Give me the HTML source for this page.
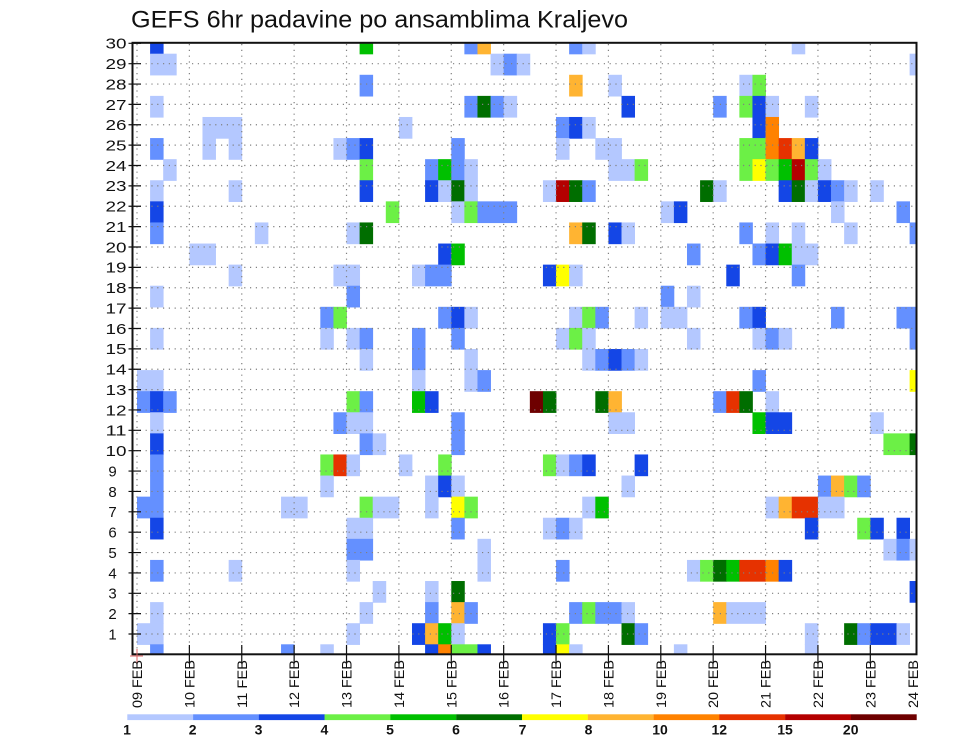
<!DOCTYPE html>
<html>
<head>
<meta charset="utf-8">
<style>
html,body{margin:0;padding:0;background:#fff;}
svg{display:block;}
.c1{fill:#b4c8ff}.c2{fill:#6490ff}.c3{fill:#1446e6}.c4{fill:#6cf046}
.c5{fill:#00c000}.c6{fill:#006e00}.c7{fill:#ffff00}.c8{fill:#ffb432}
.c9{fill:#ff8200}.c10{fill:#e63200}.c11{fill:#b40000}.c12{fill:#6e0000}
text{font-family:"Liberation Sans",Arial,sans-serif;fill:#111;}
</style>
</head>
<body>
<svg width="960" height="742" viewBox="0 0 960 742" xmlns="http://www.w3.org/2000/svg">
<rect x="0" y="0" width="960" height="742" fill="#fff"/>
<defs>
<clipPath id="pc"><rect x="133.5" y="43.5" width="782.5" height="610.5"/></clipPath>
</defs>

<text x="131" y="27.5" font-size="24" textLength="497" lengthAdjust="spacingAndGlyphs">GEFS 6hr padavine po ansamblima Kraljevo</text>

<g clip-path="url(#pc)">
<g transform="translate(137 665.393) scale(13.095 21.093)">
<!-- k29 -->
<rect x="1" y="-30" width="1.03" height="1.03" class="c3"/>
<rect x="17" y="-30" width="1.03" height="1.03" class="c5"/>
<rect x="25" y="-30" width="1.03" height="1.03" class="c2"/>
<rect x="26" y="-30" width="1.03" height="1.03" class="c8"/>
<rect x="33" y="-30" width="1.03" height="1.03" class="c2"/>
<rect x="34" y="-30" width="1.03" height="1.03" class="c1"/>
<rect x="50" y="-30" width="1.03" height="1.03" class="c1"/>
<!-- k28 -->
<rect x="1" y="-29" width="2.03" height="1.03" class="c1"/>
<rect x="27" y="-29" width="1.03" height="1.03" class="c1"/>
<rect x="28" y="-29" width="1.03" height="1.03" class="c2"/>
<rect x="29" y="-29" width="1.03" height="1.03" class="c1"/>
<rect x="59" y="-29" width="1.03" height="1.03" class="c1"/>
<!-- k27 -->
<rect x="17" y="-28" width="1.03" height="1.03" class="c2"/>
<rect x="33" y="-28" width="1.03" height="1.03" class="c8"/>
<rect x="36" y="-28" width="1.03" height="1.03" class="c1"/>
<rect x="46" y="-28" width="1.03" height="1.03" class="c1"/>
<rect x="47" y="-28" width="1.03" height="1.03" class="c4"/>
<!-- k26 -->
<rect x="1" y="-27" width="1.03" height="1.03" class="c1"/>
<rect x="25" y="-27" width="1.03" height="1.03" class="c2"/>
<rect x="26" y="-27" width="1.03" height="1.03" class="c6"/>
<rect x="27" y="-27" width="1.03" height="1.03" class="c2"/>
<rect x="28" y="-27" width="1.03" height="1.03" class="c1"/>
<rect x="37" y="-27" width="1.03" height="1.03" class="c3"/>
<rect x="44" y="-27" width="1.03" height="1.03" class="c2"/>
<rect x="46" y="-27" width="1.03" height="1.03" class="c4"/>
<rect x="47" y="-27" width="1.03" height="1.03" class="c3"/>
<rect x="48" y="-27" width="1.03" height="1.03" class="c1"/>
<rect x="51" y="-27" width="1.03" height="1.03" class="c1"/>
<!-- k25 -->
<rect x="5" y="-26" width="3.03" height="1.03" class="c1"/>
<rect x="20" y="-26" width="1.03" height="1.03" class="c1"/>
<rect x="32" y="-26" width="1.03" height="1.03" class="c2"/>
<rect x="33" y="-26" width="1.03" height="1.03" class="c3"/>
<rect x="34" y="-26" width="1.03" height="1.03" class="c1"/>
<rect x="47" y="-26" width="1.03" height="1.03" class="c3"/>
<rect x="48" y="-26" width="1.03" height="1.03" class="c9"/>
<!-- k24 -->
<rect x="1" y="-25" width="1.03" height="1.03" class="c2"/>
<rect x="5" y="-25" width="1.03" height="1.03" class="c1"/>
<rect x="7" y="-25" width="1.03" height="1.03" class="c1"/>
<rect x="15" y="-25" width="1.03" height="1.03" class="c1"/>
<rect x="16" y="-25" width="1.03" height="1.03" class="c2"/>
<rect x="17" y="-25" width="1.03" height="1.03" class="c3"/>
<rect x="24" y="-25" width="1.03" height="1.03" class="c2"/>
<rect x="32" y="-25" width="1.03" height="1.03" class="c1"/>
<rect x="35" y="-25" width="2.03" height="1.03" class="c1"/>
<rect x="46" y="-25" width="2.03" height="1.03" class="c4"/>
<rect x="48" y="-25" width="1.03" height="1.03" class="c9"/>
<rect x="49" y="-25" width="1.03" height="1.03" class="c10"/>
<rect x="50" y="-25" width="1.03" height="1.03" class="c8"/>
<rect x="51" y="-25" width="1.03" height="1.03" class="c3"/>
<!-- k23 -->
<rect x="2" y="-24" width="1.03" height="1.03" class="c1"/>
<rect x="17" y="-24" width="1.03" height="1.03" class="c4"/>
<rect x="22" y="-24" width="1.03" height="1.03" class="c2"/>
<rect x="23" y="-24" width="1.03" height="1.03" class="c5"/>
<rect x="24" y="-24" width="1.03" height="1.03" class="c2"/>
<rect x="25" y="-24" width="1.03" height="1.03" class="c1"/>
<rect x="36" y="-24" width="2.03" height="1.03" class="c1"/>
<rect x="38" y="-24" width="1.03" height="1.03" class="c4"/>
<rect x="46" y="-24" width="1.03" height="1.03" class="c4"/>
<rect x="47" y="-24" width="1.03" height="1.03" class="c7"/>
<rect x="48" y="-24" width="1.03" height="1.03" class="c4"/>
<rect x="49" y="-24" width="1.03" height="1.03" class="c5"/>
<rect x="50" y="-24" width="1.03" height="1.03" class="c11"/>
<rect x="51" y="-24" width="1.03" height="1.03" class="c4"/>
<rect x="52" y="-24" width="1.03" height="1.03" class="c1"/>
<!-- k22 -->
<rect x="1" y="-23" width="1.03" height="1.03" class="c1"/>
<rect x="7" y="-23" width="1.03" height="1.03" class="c1"/>
<rect x="17" y="-23" width="1.03" height="1.03" class="c3"/>
<rect x="22" y="-23" width="1.03" height="1.03" class="c3"/>
<rect x="23" y="-23" width="1.03" height="1.03" class="c1"/>
<rect x="24" y="-23" width="1.03" height="1.03" class="c6"/>
<rect x="25" y="-23" width="1.03" height="1.03" class="c1"/>
<rect x="31" y="-23" width="1.03" height="1.03" class="c1"/>
<rect x="32" y="-23" width="1.03" height="1.03" class="c11"/>
<rect x="33" y="-23" width="1.03" height="1.03" class="c6"/>
<rect x="34" y="-23" width="1.03" height="1.03" class="c2"/>
<rect x="43" y="-23" width="1.03" height="1.03" class="c6"/>
<rect x="44" y="-23" width="1.03" height="1.03" class="c1"/>
<rect x="49" y="-23" width="1.03" height="1.03" class="c3"/>
<rect x="50" y="-23" width="1.03" height="1.03" class="c6"/>
<rect x="51" y="-23" width="1.03" height="1.03" class="c1"/>
<rect x="52" y="-23" width="1.03" height="1.03" class="c3"/>
<rect x="53" y="-23" width="1.03" height="1.03" class="c2"/>
<rect x="54" y="-23" width="1.03" height="1.03" class="c1"/>
<rect x="56" y="-23" width="1.03" height="1.03" class="c1"/>
<!-- k21 -->
<rect x="1" y="-22" width="1.03" height="1.03" class="c3"/>
<rect x="19" y="-22" width="1.03" height="1.03" class="c4"/>
<rect x="24" y="-22" width="1.03" height="1.03" class="c1"/>
<rect x="25" y="-22" width="1.03" height="1.03" class="c4"/>
<rect x="26" y="-22" width="3.03" height="1.03" class="c2"/>
<rect x="40" y="-22" width="1.03" height="1.03" class="c1"/>
<rect x="41" y="-22" width="1.03" height="1.03" class="c3"/>
<rect x="53" y="-22" width="1.03" height="1.03" class="c1"/>
<rect x="58" y="-22" width="1.03" height="1.03" class="c2"/>
<!-- k20 -->
<rect x="1" y="-21" width="1.03" height="1.03" class="c2"/>
<rect x="9" y="-21" width="1.03" height="1.03" class="c1"/>
<rect x="16" y="-21" width="1.03" height="1.03" class="c1"/>
<rect x="17" y="-21" width="1.03" height="1.03" class="c6"/>
<rect x="33" y="-21" width="1.03" height="1.03" class="c8"/>
<rect x="34" y="-21" width="1.03" height="1.03" class="c6"/>
<rect x="36" y="-21" width="1.03" height="1.03" class="c3"/>
<rect x="37" y="-21" width="1.03" height="1.03" class="c1"/>
<rect x="46" y="-21" width="1.03" height="1.03" class="c2"/>
<rect x="48" y="-21" width="1.03" height="1.03" class="c1"/>
<rect x="50" y="-21" width="1.03" height="1.03" class="c1"/>
<rect x="54" y="-21" width="1.03" height="1.03" class="c1"/>
<rect x="59" y="-21" width="1.03" height="1.03" class="c2"/>
<!-- k19 -->
<rect x="4" y="-20" width="2.03" height="1.03" class="c1"/>
<rect x="23" y="-20" width="1.03" height="1.03" class="c3"/>
<rect x="24" y="-20" width="1.03" height="1.03" class="c5"/>
<rect x="42" y="-20" width="1.03" height="1.03" class="c2"/>
<rect x="47" y="-20" width="1.03" height="1.03" class="c2"/>
<rect x="48" y="-20" width="1.03" height="1.03" class="c3"/>
<rect x="49" y="-20" width="1.03" height="1.03" class="c5"/>
<rect x="50" y="-20" width="2.03" height="1.03" class="c1"/>
<!-- k18 -->
<rect x="7" y="-19" width="1.03" height="1.03" class="c1"/>
<rect x="15" y="-19" width="2.03" height="1.03" class="c1"/>
<rect x="21" y="-19" width="1.03" height="1.03" class="c1"/>
<rect x="22" y="-19" width="2.03" height="1.03" class="c2"/>
<rect x="31" y="-19" width="1.03" height="1.03" class="c3"/>
<rect x="32" y="-19" width="1.03" height="1.03" class="c7"/>
<rect x="33" y="-19" width="1.03" height="1.03" class="c1"/>
<rect x="45" y="-19" width="1.03" height="1.03" class="c3"/>
<rect x="50" y="-19" width="1.03" height="1.03" class="c2"/>
<!-- k17 -->
<rect x="1" y="-18" width="1.03" height="1.03" class="c1"/>
<rect x="16" y="-18" width="1.03" height="1.03" class="c2"/>
<rect x="40" y="-18" width="1.03" height="1.03" class="c2"/>
<rect x="42" y="-18" width="1.03" height="1.03" class="c1"/>
<!-- k16 -->
<rect x="14" y="-17" width="1.03" height="1.03" class="c2"/>
<rect x="15" y="-17" width="1.03" height="1.03" class="c4"/>
<rect x="23" y="-17" width="1.03" height="1.03" class="c2"/>
<rect x="24" y="-17" width="1.03" height="1.03" class="c3"/>
<rect x="25" y="-17" width="1.03" height="1.03" class="c1"/>
<rect x="33" y="-17" width="1.03" height="1.03" class="c1"/>
<rect x="34" y="-17" width="1.03" height="1.03" class="c4"/>
<rect x="35" y="-17" width="1.03" height="1.03" class="c2"/>
<rect x="38" y="-17" width="1.03" height="1.03" class="c1"/>
<rect x="40" y="-17" width="2.03" height="1.03" class="c1"/>
<rect x="46" y="-17" width="1.03" height="1.03" class="c2"/>
<rect x="47" y="-17" width="1.03" height="1.03" class="c3"/>
<rect x="53" y="-17" width="1.03" height="1.03" class="c2"/>
<rect x="58" y="-17" width="2.03" height="1.03" class="c2"/>
<!-- k15 -->
<rect x="1" y="-16" width="1.03" height="1.03" class="c1"/>
<rect x="14" y="-16" width="1.03" height="1.03" class="c1"/>
<rect x="16" y="-16" width="1.03" height="1.03" class="c1"/>
<rect x="17" y="-16" width="1.03" height="1.03" class="c2"/>
<rect x="21" y="-16" width="1.03" height="1.03" class="c2"/>
<rect x="24" y="-16" width="1.03" height="1.03" class="c2"/>
<rect x="32" y="-16" width="1.03" height="1.03" class="c1"/>
<rect x="33" y="-16" width="1.03" height="1.03" class="c4"/>
<rect x="34" y="-16" width="1.03" height="1.03" class="c1"/>
<rect x="42" y="-16" width="1.03" height="1.03" class="c1"/>
<rect x="47" y="-16" width="1.03" height="1.03" class="c1"/>
<rect x="48" y="-16" width="1.03" height="1.03" class="c2"/>
<rect x="49" y="-16" width="1.03" height="1.03" class="c1"/>
<rect x="59" y="-16" width="1.03" height="1.03" class="c2"/>
<!-- k14 -->
<rect x="17" y="-15" width="1.03" height="1.03" class="c1"/>
<rect x="21" y="-15" width="1.03" height="1.03" class="c2"/>
<rect x="25" y="-15" width="1.03" height="1.03" class="c1"/>
<rect x="34" y="-15" width="1.03" height="1.03" class="c1"/>
<rect x="35" y="-15" width="1.03" height="1.03" class="c2"/>
<rect x="36" y="-15" width="1.03" height="1.03" class="c3"/>
<rect x="37" y="-15" width="1.03" height="1.03" class="c2"/>
<rect x="38" y="-15" width="1.03" height="1.03" class="c1"/>
<!-- k13 -->
<rect x="0" y="-14" width="2.03" height="1.03" class="c1"/>
<rect x="21" y="-14" width="1.03" height="1.03" class="c1"/>
<rect x="25" y="-14" width="1.03" height="1.03" class="c1"/>
<rect x="26" y="-14" width="1.03" height="1.03" class="c2"/>
<rect x="47" y="-14" width="1.03" height="1.03" class="c2"/>
<rect x="59" y="-14" width="1.03" height="1.03" class="c7"/>
<!-- k12 -->
<rect x="0" y="-13" width="1.03" height="1.03" class="c2"/>
<rect x="1" y="-13" width="1.03" height="1.03" class="c3"/>
<rect x="2" y="-13" width="1.03" height="1.03" class="c2"/>
<rect x="16" y="-13" width="1.03" height="1.03" class="c4"/>
<rect x="17" y="-13" width="1.03" height="1.03" class="c2"/>
<rect x="21" y="-13" width="1.03" height="1.03" class="c5"/>
<rect x="22" y="-13" width="1.03" height="1.03" class="c3"/>
<rect x="30" y="-13" width="1.03" height="1.03" class="c12"/>
<rect x="31" y="-13" width="1.03" height="1.03" class="c6"/>
<rect x="35" y="-13" width="1.03" height="1.03" class="c6"/>
<rect x="36" y="-13" width="1.03" height="1.03" class="c8"/>
<rect x="44" y="-13" width="1.03" height="1.03" class="c2"/>
<rect x="45" y="-13" width="1.03" height="1.03" class="c10"/>
<rect x="46" y="-13" width="1.03" height="1.03" class="c6"/>
<rect x="48" y="-13" width="1.03" height="1.03" class="c1"/>
<!-- k11 -->
<rect x="1" y="-12" width="1.03" height="1.03" class="c1"/>
<rect x="15" y="-12" width="1.03" height="1.03" class="c2"/>
<rect x="16" y="-12" width="2.03" height="1.03" class="c1"/>
<rect x="24" y="-12" width="1.03" height="1.03" class="c2"/>
<rect x="36" y="-12" width="2.03" height="1.03" class="c1"/>
<rect x="47" y="-12" width="1.03" height="1.03" class="c5"/>
<rect x="48" y="-12" width="2.03" height="1.03" class="c3"/>
<rect x="56" y="-12" width="1.03" height="1.03" class="c1"/>
<!-- k10 -->
<rect x="1" y="-11" width="1.03" height="1.03" class="c3"/>
<rect x="17" y="-11" width="1.03" height="1.03" class="c2"/>
<rect x="18" y="-11" width="1.03" height="1.03" class="c1"/>
<rect x="24" y="-11" width="1.03" height="1.03" class="c2"/>
<rect x="57" y="-11" width="2.03" height="1.03" class="c4"/>
<rect x="59" y="-11" width="1.03" height="1.03" class="c6"/>
<!-- k9 -->
<rect x="1" y="-10" width="1.03" height="1.03" class="c2"/>
<rect x="14" y="-10" width="1.03" height="1.03" class="c4"/>
<rect x="15" y="-10" width="1.03" height="1.03" class="c10"/>
<rect x="16" y="-10" width="1.03" height="1.03" class="c1"/>
<rect x="20" y="-10" width="1.03" height="1.03" class="c1"/>
<rect x="23" y="-10" width="1.03" height="1.03" class="c4"/>
<rect x="31" y="-10" width="1.03" height="1.03" class="c4"/>
<rect x="32" y="-10" width="1.03" height="1.03" class="c1"/>
<rect x="33" y="-10" width="1.03" height="1.03" class="c2"/>
<rect x="34" y="-10" width="1.03" height="1.03" class="c3"/>
<rect x="38" y="-10" width="1.03" height="1.03" class="c3"/>
<!-- k8 -->
<rect x="1" y="-9" width="1.03" height="1.03" class="c2"/>
<rect x="14" y="-9" width="1.03" height="1.03" class="c1"/>
<rect x="22" y="-9" width="1.03" height="1.03" class="c1"/>
<rect x="23" y="-9" width="1.03" height="1.03" class="c3"/>
<rect x="24" y="-9" width="1.03" height="1.03" class="c1"/>
<rect x="37" y="-9" width="1.03" height="1.03" class="c1"/>
<rect x="52" y="-9" width="1.03" height="1.03" class="c2"/>
<rect x="53" y="-9" width="1.03" height="1.03" class="c8"/>
<rect x="54" y="-9" width="1.03" height="1.03" class="c4"/>
<rect x="55" y="-9" width="1.03" height="1.03" class="c2"/>
<!-- k7 -->
<rect x="0" y="-8" width="2.03" height="1.03" class="c2"/>
<rect x="11" y="-8" width="2.03" height="1.03" class="c1"/>
<rect x="17" y="-8" width="1.03" height="1.03" class="c4"/>
<rect x="18" y="-8" width="2.03" height="1.03" class="c1"/>
<rect x="22" y="-8" width="1.03" height="1.03" class="c1"/>
<rect x="24" y="-8" width="1.03" height="1.03" class="c7"/>
<rect x="25" y="-8" width="1.03" height="1.03" class="c4"/>
<rect x="34" y="-8" width="1.03" height="1.03" class="c1"/>
<rect x="35" y="-8" width="1.03" height="1.03" class="c5"/>
<rect x="48" y="-8" width="1.03" height="1.03" class="c1"/>
<rect x="49" y="-8" width="1.03" height="1.03" class="c8"/>
<rect x="50" y="-8" width="2.03" height="1.03" class="c10"/>
<rect x="52" y="-8" width="2.03" height="1.03" class="c1"/>
<!-- k6 -->
<rect x="1" y="-7" width="1.03" height="1.03" class="c3"/>
<rect x="16" y="-7" width="2.03" height="1.03" class="c1"/>
<rect x="24" y="-7" width="1.03" height="1.03" class="c2"/>
<rect x="31" y="-7" width="1.03" height="1.03" class="c1"/>
<rect x="32" y="-7" width="1.03" height="1.03" class="c2"/>
<rect x="33" y="-7" width="1.03" height="1.03" class="c1"/>
<rect x="51" y="-7" width="1.03" height="1.03" class="c3"/>
<rect x="55" y="-7" width="1.03" height="1.03" class="c4"/>
<rect x="56" y="-7" width="1.03" height="1.03" class="c3"/>
<rect x="58" y="-7" width="1.03" height="1.03" class="c3"/>
<!-- k5 -->
<rect x="16" y="-6" width="2.03" height="1.03" class="c2"/>
<rect x="26" y="-6" width="1.03" height="1.03" class="c1"/>
<rect x="57" y="-6" width="1.03" height="1.03" class="c1"/>
<rect x="58" y="-6" width="1.03" height="1.03" class="c2"/>
<rect x="59" y="-6" width="1.03" height="1.03" class="c1"/>
<!-- k4 -->
<rect x="1" y="-5" width="1.03" height="1.03" class="c2"/>
<rect x="7" y="-5" width="1.03" height="1.03" class="c1"/>
<rect x="16" y="-5" width="1.03" height="1.03" class="c1"/>
<rect x="26" y="-5" width="1.03" height="1.03" class="c1"/>
<rect x="32" y="-5" width="1.03" height="1.03" class="c2"/>
<rect x="42" y="-5" width="1.03" height="1.03" class="c1"/>
<rect x="43" y="-5" width="1.03" height="1.03" class="c4"/>
<rect x="44" y="-5" width="1.03" height="1.03" class="c6"/>
<rect x="45" y="-5" width="1.03" height="1.03" class="c5"/>
<rect x="46" y="-5" width="2.03" height="1.03" class="c10"/>
<rect x="48" y="-5" width="1.03" height="1.03" class="c9"/>
<rect x="49" y="-5" width="1.03" height="1.03" class="c3"/>
<!-- k3 -->
<rect x="18" y="-4" width="1.03" height="1.03" class="c1"/>
<rect x="22" y="-4" width="1.03" height="1.03" class="c1"/>
<rect x="24" y="-4" width="1.03" height="1.03" class="c6"/>
<rect x="59" y="-4" width="1.03" height="1.03" class="c3"/>
<!-- k2 -->
<rect x="1" y="-3" width="1.03" height="1.03" class="c1"/>
<rect x="17" y="-3" width="1.03" height="1.03" class="c1"/>
<rect x="22" y="-3" width="1.03" height="1.03" class="c2"/>
<rect x="24" y="-3" width="1.03" height="1.03" class="c8"/>
<rect x="25" y="-3" width="1.03" height="1.03" class="c2"/>
<rect x="33" y="-3" width="1.03" height="1.03" class="c2"/>
<rect x="34" y="-3" width="1.03" height="1.03" class="c4"/>
<rect x="35" y="-3" width="2.03" height="1.03" class="c2"/>
<rect x="37" y="-3" width="1.03" height="1.03" class="c1"/>
<rect x="44" y="-3" width="1.03" height="1.03" class="c8"/>
<rect x="45" y="-3" width="3.03" height="1.03" class="c1"/>
<!-- k1 -->
<rect x="0" y="-2" width="2.03" height="1.03" class="c1"/>
<rect x="16" y="-2" width="1.03" height="1.03" class="c1"/>
<rect x="21" y="-2" width="1.03" height="1.03" class="c3"/>
<rect x="22" y="-2" width="1.03" height="1.03" class="c8"/>
<rect x="23" y="-2" width="1.03" height="1.03" class="c5"/>
<rect x="24" y="-2" width="1.03" height="1.03" class="c1"/>
<rect x="31" y="-2" width="1.03" height="1.03" class="c3"/>
<rect x="32" y="-2" width="1.03" height="1.03" class="c4"/>
<rect x="37" y="-2" width="1.03" height="1.03" class="c6"/>
<rect x="38" y="-2" width="1.03" height="1.03" class="c2"/>
<rect x="51" y="-2" width="1.03" height="1.03" class="c1"/>
<rect x="54" y="-2" width="1.03" height="1.03" class="c6"/>
<rect x="55" y="-2" width="1.03" height="1.03" class="c2"/>
<rect x="56" y="-2" width="2.03" height="1.03" class="c3"/>
<rect x="58" y="-2" width="1.03" height="1.03" class="c1"/>
<!-- k0 -->
<rect x="1" y="-1" width="1.03" height="1.03" class="c2"/>
<rect x="11" y="-1" width="1.03" height="1.03" class="c2"/>
<rect x="14" y="-1" width="1.03" height="1.03" class="c1"/>
<rect x="22" y="-1" width="1.03" height="1.03" class="c3"/>
<rect x="23" y="-1" width="1.03" height="1.03" class="c9"/>
<rect x="24" y="-1" width="2.03" height="1.03" class="c4"/>
<rect x="26" y="-1" width="1.03" height="1.03" class="c3"/>
<rect x="31" y="-1" width="1.03" height="1.03" class="c3"/>
<rect x="32" y="-1" width="1.03" height="1.03" class="c7"/>
<rect x="33" y="-1" width="1.03" height="1.03" class="c1"/>
<rect x="41" y="-1" width="1.03" height="1.03" class="c1"/>
<rect x="51" y="-1" width="1.03" height="1.03" class="c1"/>
</g>

<!-- dotted grid -->
<path fill="none" stroke="#808080" stroke-width="1.2" stroke-dasharray="1.2 4.6" d="
M137 44V654 M189.38 44V654 M241.76 44V654 M294.14 44V654 M346.52 44V654
M398.9 44V654 M451.28 44V654 M503.66 44V654 M556.04 44V654 M608.42 44V654
M660.8 44V654 M713.18 44V654 M765.56 44V654 M817.94 44V654 M870.32 44V654
M134 634.03H916 M134 613.66H916 M134 593.29H916 M134 572.92H916 M134 552.55H916
M134 532.18H916 M134 511.81H916 M134 491.44H916 M134 471.07H916 M134 450.7H916
M134 430.33H916 M134 409.96H916 M134 389.59H916 M134 369.22H916 M134 348.85H916
M134 328.48H916 M134 308.11H916 M134 287.74H916 M134 267.37H916 M134 247H916
M134 226.63H916 M134 206.26H916 M134 185.89H916 M134 165.52H916 M134 145.15H916
M134 124.78H916 M134 104.41H916 M134 84.04H916 M134 63.67H916"/>
</g>

<!-- frame -->
<rect x="132.5" y="42.8" width="784" height="611.5" fill="none" stroke="#111" stroke-width="2"/>

<!-- y ticks -->
<path fill="none" stroke="#111" stroke-width="1.2" d="
M128.5 634.03H141 M128.5 613.66H141 M128.5 593.29H141 M128.5 572.92H141 M128.5 552.55H141
M128.5 532.18H141 M128.5 511.81H141 M128.5 491.44H141 M128.5 471.07H141 M128.5 450.7H141
M128.5 430.33H141 M128.5 409.96H141 M128.5 389.59H141 M128.5 369.22H141 M128.5 348.85H141
M128.5 328.48H141 M128.5 308.11H141 M128.5 287.74H141 M128.5 267.37H141 M128.5 247H141
M128.5 226.63H141 M128.5 206.26H141 M128.5 185.89H141 M128.5 165.52H141 M128.5 145.15H141
M128.5 124.78H141 M128.5 104.41H141 M128.5 84.04H141 M128.5 63.67H141 M128.5 43.3H141"/>

<!-- x ticks -->
<path fill="none" stroke="#111" stroke-width="1.2" d="
M189.38 645V663 M241.76 645V663 M294.14 645V663 M346.52 645V663
M398.9 645V663 M451.28 645V663 M503.66 645V663 M556.04 645V663 M608.42 645V663
M660.8 645V663 M713.18 645V663 M765.56 645V663 M817.94 645V663 M870.32 645V663"/>
<path fill="none" stroke="#e06666" stroke-width="1" d="M130 656H143 M137 649V663"/>

<!-- y labels -->
<g font-size="15" text-anchor="middle">
<text x="112.5" y="639.4">1</text>
<text x="112.5" y="619">2</text>
<text x="112.5" y="598.6">3</text>
<text x="112.5" y="578.3">4</text>
<text x="112.5" y="557.9">5</text>
<text x="112.5" y="537.5">6</text>
<text x="112.5" y="517.2">7</text>
<text x="112.5" y="496.8">8</text>
<text x="112.5" y="476.4">9</text>
</g>
<g font-size="15">
<text x="105.5" y="456" textLength="21" lengthAdjust="spacingAndGlyphs">10</text>
<text x="105.5" y="435.7" textLength="21" lengthAdjust="spacingAndGlyphs">11</text>
<text x="105.5" y="415.3" textLength="21" lengthAdjust="spacingAndGlyphs">12</text>
<text x="105.5" y="394.9" textLength="21" lengthAdjust="spacingAndGlyphs">13</text>
<text x="105.5" y="374.6" textLength="21" lengthAdjust="spacingAndGlyphs">14</text>
<text x="105.5" y="354.2" textLength="21" lengthAdjust="spacingAndGlyphs">15</text>
<text x="105.5" y="333.8" textLength="21" lengthAdjust="spacingAndGlyphs">16</text>
<text x="105.5" y="313.5" textLength="21" lengthAdjust="spacingAndGlyphs">17</text>
<text x="105.5" y="293.1" textLength="21" lengthAdjust="spacingAndGlyphs">18</text>
<text x="105.5" y="272.7" textLength="21" lengthAdjust="spacingAndGlyphs">19</text>
<text x="105.5" y="252.4" textLength="21" lengthAdjust="spacingAndGlyphs">20</text>
<text x="105.5" y="232" textLength="21" lengthAdjust="spacingAndGlyphs">21</text>
<text x="105.5" y="211.6" textLength="21" lengthAdjust="spacingAndGlyphs">22</text>
<text x="105.5" y="191.2" textLength="21" lengthAdjust="spacingAndGlyphs">23</text>
<text x="105.5" y="170.9" textLength="21" lengthAdjust="spacingAndGlyphs">24</text>
<text x="105.5" y="150.5" textLength="21" lengthAdjust="spacingAndGlyphs">25</text>
<text x="105.5" y="130.1" textLength="21" lengthAdjust="spacingAndGlyphs">26</text>
<text x="105.5" y="109.8" textLength="21" lengthAdjust="spacingAndGlyphs">27</text>
<text x="105.5" y="89.4" textLength="21" lengthAdjust="spacingAndGlyphs">28</text>
<text x="105.5" y="69" textLength="21" lengthAdjust="spacingAndGlyphs">29</text>
<text x="105.5" y="48.7" textLength="21" lengthAdjust="spacingAndGlyphs">30</text>
</g>

<!-- x labels -->
<g font-size="14">
<text transform="translate(142 708) rotate(-90)" textLength="48" lengthAdjust="spacingAndGlyphs">09 FEB</text>
<text transform="translate(194.38 708) rotate(-90)" textLength="48" lengthAdjust="spacingAndGlyphs">10 FEB</text>
<text transform="translate(246.76 708) rotate(-90)" textLength="48" lengthAdjust="spacingAndGlyphs">11 FEB</text>
<text transform="translate(299.14 708) rotate(-90)" textLength="48" lengthAdjust="spacingAndGlyphs">12 FEB</text>
<text transform="translate(351.52 708) rotate(-90)" textLength="48" lengthAdjust="spacingAndGlyphs">13 FEB</text>
<text transform="translate(403.9 708) rotate(-90)" textLength="48" lengthAdjust="spacingAndGlyphs">14 FEB</text>
<text transform="translate(456.28 708) rotate(-90)" textLength="48" lengthAdjust="spacingAndGlyphs">15 FEB</text>
<text transform="translate(508.66 708) rotate(-90)" textLength="48" lengthAdjust="spacingAndGlyphs">16 FEB</text>
<text transform="translate(561.04 708) rotate(-90)" textLength="48" lengthAdjust="spacingAndGlyphs">17 FEB</text>
<text transform="translate(613.42 708) rotate(-90)" textLength="48" lengthAdjust="spacingAndGlyphs">18 FEB</text>
<text transform="translate(665.8 708) rotate(-90)" textLength="48" lengthAdjust="spacingAndGlyphs">19 FEB</text>
<text transform="translate(718.18 708) rotate(-90)" textLength="48" lengthAdjust="spacingAndGlyphs">20 FEB</text>
<text transform="translate(770.56 708) rotate(-90)" textLength="48" lengthAdjust="spacingAndGlyphs">21 FEB</text>
<text transform="translate(822.94 708) rotate(-90)" textLength="48" lengthAdjust="spacingAndGlyphs">22 FEB</text>
<text transform="translate(875.32 708) rotate(-90)" textLength="48" lengthAdjust="spacingAndGlyphs">23 FEB</text>
<text transform="translate(918 708) rotate(-90)" textLength="48" lengthAdjust="spacingAndGlyphs">24 FEB</text>
</g>

<!-- legend bar -->
<rect x="127.3" y="714.3" width="65.9" height="5.8" class="c1"/>
<rect x="193.1" y="714.3" width="65.9" height="5.8" class="c2"/>
<rect x="258.9" y="714.3" width="65.9" height="5.8" class="c3"/>
<rect x="324.6" y="714.3" width="65.9" height="5.8" class="c4"/>
<rect x="390.4" y="714.3" width="65.9" height="5.8" class="c5"/>
<rect x="456.2" y="714.3" width="65.9" height="5.8" class="c6"/>
<rect x="522" y="714.3" width="65.9" height="5.8" class="c7"/>
<rect x="587.8" y="714.3" width="65.9" height="5.8" class="c8"/>
<rect x="653.6" y="714.3" width="65.9" height="5.8" class="c9"/>
<rect x="719.3" y="714.3" width="65.9" height="5.8" class="c10"/>
<rect x="785.1" y="714.3" width="65.9" height="5.8" class="c11"/>
<rect x="850.9" y="714.3" width="65.8" height="5.8" class="c12"/>

<g font-size="14" font-weight="bold" text-anchor="middle">
<text x="127" y="734.5">1</text>
<text x="192.7" y="734.5">2</text>
<text x="258.5" y="734.5">3</text>
<text x="324.4" y="734.5">4</text>
<text x="390" y="734.5">5</text>
<text x="456" y="734.5">6</text>
<text x="522.5" y="734.5">7</text>
<text x="588.5" y="734.5">8</text>
<text x="660" y="734.5">10</text>
<text x="719.3" y="734.5">12</text>
<text x="785" y="734.5">15</text>
<text x="850.7" y="734.5">20</text>
</g>
</svg>
</body>
</html>
